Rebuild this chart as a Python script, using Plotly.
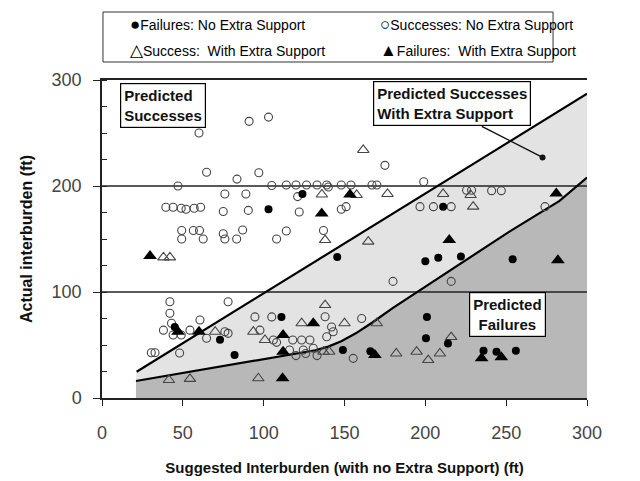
import plotly.graph_objects as go

# ---------------- data ----------------
fail_nosup_x = [103, 124, 211, 145.5, 200, 208, 222, 254, 201, 200.4, 214, 256, 236, 244, 149, 166, 45, 73, 82, 111]
fail_nosup_y = [178, 192.5, 180.5, 133, 129, 132.4, 133.5, 131, 76.5, 56.3, 51.5, 44.6, 44.6, 43.7, 45.3, 44, 67, 55, 40.6, 76.5]

succ_nosup_x = [60, 91, 103, 64.7, 83.5, 97, 47, 105, 114, 120, 126.5, 133, 139, 148, 154, 167, 170, 199, 175,
                76, 89, 121, 140, 225.5, 228.6, 241, 247,
                39.5, 44, 49, 52, 57, 61, 75, 90.5, 122, 148, 151, 196.7, 205, 216, 274,
                49.3, 56.5, 60.3, 75, 87, 114, 137,
                49.3, 62.6, 76, 83.3, 108,
                180, 216,
                42, 42, 78, 38, 43, 54.4, 49, 44, 60.6, 64.7, 76, 78, 32.8, 30.5, 48,
                94.6, 105, 97.7, 106, 108, 118, 123.5, 128.6, 116, 124.5, 130.7,
                160.6, 138, 142, 139, 143, 155.4, 120, 126, 133]
succ_nosup_y = [250, 261, 265, 213, 206.5, 212.5, 200, 200.5, 201, 201, 201, 201, 201, 201, 201, 201, 201, 204, 219.5,
                192.5, 192.5, 190, 199, 196, 196, 195.6, 195.6,
                180, 180, 179, 178, 179, 180, 176, 177, 175.5, 178, 180.5, 180.5, 180.5, 180.5, 180.5,
                158, 158, 158, 155, 158.5, 157.5, 158,
                150, 150, 150, 150, 150,
                110, 110,
                90.8, 80, 90.8, 64, 70.5, 64, 59.4, 59.4, 73.6, 56.3, 62.5, 61, 42.7, 42.7, 42.5,
                76.5, 76.5, 64, 54.7, 52.5, 54.7, 54.7, 54.7, 45.3, 45.3, 47,
                75, 76.7, 67, 57.8, 62.5, 37.4, 40, 42, 40]

succ_sup_x = [161.6, 136, 157.5, 176.6, 211, 228, 229.6, 138, 164.7, 38, 42,
              70, 93.6, 100.8, 123.5, 138, 150, 170, 41.4, 54.4, 96.7, 137, 140.5,
              182, 194.6, 201.8, 209, 216]
succ_sup_y = [234, 192, 191.5, 192.5, 192.5, 191.5, 180.5, 149, 147.5, 132.7, 132.7,
              62.5, 62.5, 54.7, 70.5, 87.7, 70.5, 70.5, 17, 18, 18.6, 43.7, 43.7,
              42, 43.7, 35.8, 42, 57.5]

fail_sup_x = [29.7, 135.9, 153.4, 214.8, 282, 281, 47, 60, 112, 130.7, 112, 111.7, 168.8, 234.8, 247]
fail_sup_y = [134, 174, 192, 149, 130, 193, 62.5, 62.5, 59.4, 70.5, 43.7, 18.6, 40.6, 37.4, 38.5]

# boundary curves
upper_x = [21.4, 300]
upper_y = [24.8, 287]
lower_x = [21, 87, 120, 132, 140, 148, 157, 167, 180, 197, 225, 252, 283, 300]
lower_y = [16, 33, 42, 45, 48.5, 53.5, 61, 71, 85, 102, 130, 157, 186, 208]

ref_levels = [100, 200]
x_ticks = [0, 50, 100, 150, 200, 250, 300]
y_ticks = [0, 100, 200, 300]

FONT = "Liberation Sans, Arial, sans-serif"

fig = go.Figure()

# light region between lines
fig.add_trace(go.Scatter(
    x=upper_x + lower_x[::-1], y=upper_y + lower_y[::-1],
    fill="toself", fillcolor="#e3e3e3", line=dict(width=0), mode="lines",
    hoverinfo="skip", showlegend=False))
# dark region below lower line
fig.add_trace(go.Scatter(
    x=lower_x + [lower_x[-1], lower_x[0]], y=lower_y + [0, 0],
    fill="toself", fillcolor="#b8b8b8", line=dict(width=0), mode="lines",
    hoverinfo="skip", showlegend=False))

# horizontal reference lines
for lv in ref_levels:
    fig.add_trace(go.Scatter(x=[x_ticks[0], x_ticks[-1]], y=[lv, lv], mode="lines",
                             line=dict(color="#222", width=1.5), hoverinfo="skip", showlegend=False))

# boundary lines
fig.add_trace(go.Scatter(x=upper_x, y=upper_y, mode="lines", line=dict(color="black", width=2.2),
                         showlegend=False))
fig.add_trace(go.Scatter(x=lower_x, y=lower_y, mode="lines", line=dict(color="black", width=2.2),
                         showlegend=False))

# markers
fig.add_trace(go.Scatter(x=succ_nosup_x, y=succ_nosup_y, mode="markers", name="Successes: No Extra Support",
                         marker=dict(symbol="circle-open", size=8, color="#444", line=dict(width=1.1)),
                         showlegend=False))
fig.add_trace(go.Scatter(x=succ_sup_x, y=succ_sup_y, mode="markers", name="Success:  With Extra Support",
                         marker=dict(symbol="triangle-up-open", size=10, color="#444", line=dict(width=1.1)),
                         showlegend=False))
fig.add_trace(go.Scatter(x=fail_nosup_x, y=fail_nosup_y, mode="markers", name="Failures: No Extra Support",
                         marker=dict(symbol="circle", size=8, color="black"), showlegend=False))
fig.add_trace(go.Scatter(x=fail_sup_x, y=fail_sup_y, mode="markers", name="Failures:  With Extra Support",
                         marker=dict(symbol="triangle-up", size=12, color="black"), showlegend=False))

# region labels
box = dict(bordercolor="black", borderwidth=1.2, bgcolor="white", showarrow=False, borderpad=3,
           font=dict(family=FONT, size=15, color="#111", weight="bold"))
fig.add_annotation(x=37.6, y=276.4, text="Predicted<br>Successes", align="left", **box)
fig.add_annotation(x=216.4, y=277.4, text="Predicted Successes<br>With Extra Support", align="left", **box)
fig.add_annotation(x=251, y=78.6, text="Predicted<br>Failures", align="center", **box)
fig.add_annotation(x=272.5, y=227, ax=234, ay=257, axref="x", ayref="y", text="",
                   showarrow=True, arrowhead=6, arrowsize=1, arrowwidth=1.5, arrowcolor="#111")

# manual legend
fig.add_shape(type="rect", xref="paper", yref="paper", x0=0.002, x1=0.93, y0=1.0566, y1=1.2138,
              line=dict(color="#333", width=1), fillcolor="white")
leg = [("●", "Failures: No Extra Support", 0.0537, 1.176),
       ("○", "Successes: No Extra Support", 0.569, 1.176),
       ("△", "Success:\u00a0 With Extra Support", 0.0537, 1.094),
       ("▲", "Failures:\u00a0 With Extra Support", 0.569, 1.094)]
for sym, txt, lx, ly in leg:
    fig.add_annotation(xref="paper", yref="paper", x=lx, y=ly, xanchor="left", yanchor="middle",
                       text='<span style="font-size:17px">' + sym + '</span>' + txt, showarrow=False,
                       font=dict(family=FONT, size=14, color="black"))

fig.update_layout(
    width=640, height=481,
    margin=dict(l=94, r=61, t=72, b=91),
    plot_bgcolor="white", paper_bgcolor="white",
    font=dict(family=FONT),
    xaxis=dict(range=[0, 300], tickvals=x_ticks, ticks="outside", ticklen=6, tickcolor="#222",
               showline=True, linecolor="#222", linewidth=1.5, mirror=True, showgrid=False, zeroline=False,
               tickfont=dict(size=18, color="#444"), ticklabelstandoff=12,
               title=dict(text="Suggested Interburden (with no Extra Support) (ft)",
                          font=dict(size=15, color="#111", weight="bold"), standoff=20)),
    yaxis=dict(range=[0, 300], tickvals=y_ticks, ticks="outside", ticklen=7, tickcolor="#222",
               showline=True, linecolor="#222", linewidth=1.5, showgrid=False, zeroline=False,
               tickfont=dict(size=18, color="#444"), ticklabelstandoff=8,
               minor=dict(dtick=25, ticks="inside", ticklen=5, tickcolor="#222", showgrid=False),
               title=dict(text="Actual interburden (ft)",
                          font=dict(size=16, color="#111", weight="bold"), standoff=15)),
)

fig.write_html("out.html")
